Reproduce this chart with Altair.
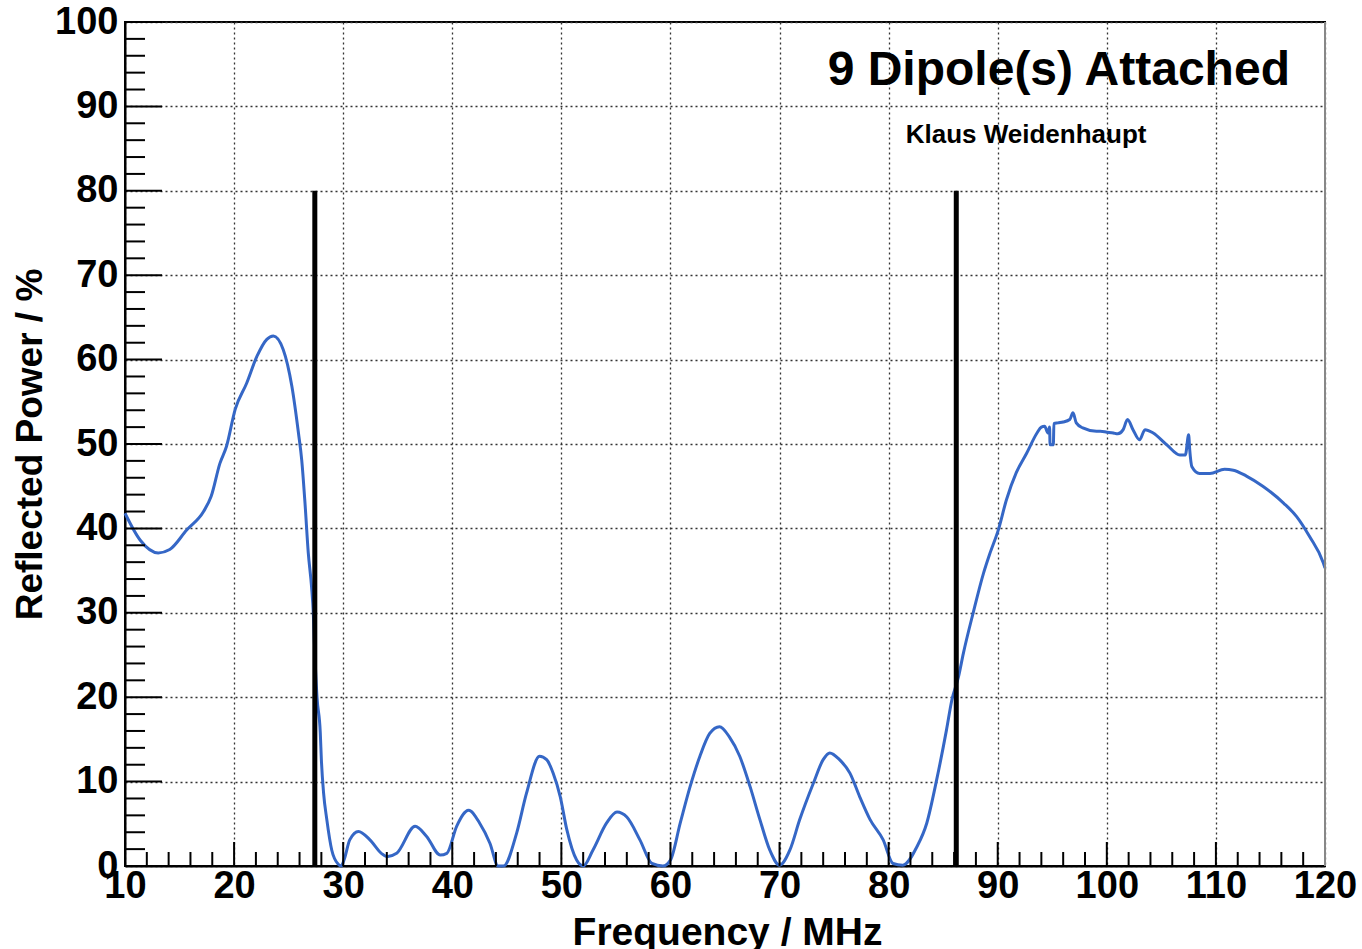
import altair as alt
import pandas as pd

# Reflected power sweep (MHz, %)
freq = [
    10.0, 11.4, 13.05, 14.1, 15.65, 17.2, 17.9, 18.7, 19.3, 20.1, 21.15, 22.1,
    23.0, 23.6, 24.5, 25.3, 25.9, 26.2, 26.5, 26.8, 27.1, 27.26, 27.35, 27.6,
    27.9, 28.0, 28.2, 28.5, 28.95, 29.55, 29.8, 30.1, 30.6, 31.4, 32.45, 33.5,
    34.0, 34.9, 36.6, 37.65, 38.9, 39.5, 40.4, 41.5, 42.5, 43.45, 44.2, 44.7,
    45.9, 46.8, 48.0, 48.65, 49.25, 49.9, 50.5, 51.4, 52.0, 52.9, 54.15, 55.1,
    56.0, 57.2, 58.3, 59.3, 60.0, 60.9, 61.8, 62.7, 63.6, 64.5, 65.4, 66.35,
    67.3, 68.2, 69.1, 70.0, 70.95, 71.85, 73.1, 74.0, 74.6, 75.5, 76.45, 77.35,
    78.3, 79.5, 80.4, 81.3, 82.6, 83.5, 84.4, 85.3, 85.8, 86.4, 86.85, 87.75,
    88.7, 89.3, 90.05, 90.8, 91.7, 92.65, 93.6, 94.0, 94.3, 94.6, 94.75, 94.8,
    95.1, 95.15, 95.5, 96.0, 96.6, 96.9, 97.2, 97.8, 99.05, 99.4, 100.0, 100.6,
    101.0, 101.5, 101.9, 102.4, 103.0, 103.5, 104.25, 105.5, 106.7, 107.2,
    107.5, 107.6, 107.8, 108.5, 109.45, 110.8, 111.6, 112.8, 114.3, 116.2,
    117.4, 118.6, 119.85, 120.0,
]
refl = [
    41.8, 38.6, 37.1, 37.5, 39.8, 42.0, 43.8, 47.7, 49.7, 54.1, 57.2, 60.4,
    62.4, 62.8, 61.2, 56.8, 51.3, 48.1, 43.0, 37.1, 33.1, 30.0, 26.8, 20.0,
    15.8, 12.6, 8.7, 5.5, 1.9, 0.2, 0.0, 0.8, 3.1, 4.1, 3.1, 1.5,
    1.1, 1.5, 4.7, 3.5, 1.3, 1.5, 4.7, 6.6, 5.1, 2.7, 0.0, 0.0,
    3.9, 8.6, 13.0, 12.6, 11.0, 8.2, 4.3, 0.7, 0.0, 1.9, 5.1, 6.4,
    5.8, 3.1, 0.3, 0.0, 0.7, 5.1, 9.4, 13.0, 15.7, 16.5, 15.3, 13.0,
    9.4, 5.5, 1.9, 0.1, 1.9, 5.5, 9.8, 12.6, 13.4, 12.6, 11.0, 8.2,
    5.5, 3.1, 0.3, 0.1, 2.3, 5.1, 10.2, 16.1, 19.7, 22.4, 25.2, 30.0,
    34.7, 37.1, 39.8, 43.4, 46.6, 48.9, 51.3, 52.0, 52.1, 51.3, 52.0, 49.9,
    49.9, 52.4, 52.5, 52.6, 52.9, 53.7, 52.5, 51.9, 51.5, 51.5, 51.4, 51.3,
    51.2, 51.7, 52.9, 51.7, 50.5, 51.7, 51.3, 49.9, 48.7, 48.7,
    51.1, 49.3, 47.3, 46.5, 46.5, 47.0, 46.9, 46.2, 45.0, 43.0,
    41.4, 39.0, 35.9, 35.3,
]

# Frequency band markers
marker_freq = [27.4, 86.2]
marker_top = [80, 80]

# Tick positions
major_x = list(range(10, 121, 10))
minor_x = [v for v in range(12, 120, 2) if v % 10]
major_y = list(range(0, 101, 10))
minor_y = [v for v in range(2, 100, 2) if v % 10]

FONT = "Liberation Sans"
W, H = 1200, 844

xscale = alt.Scale(domain=[10, 120], nice=False, zero=False)
yscale = alt.Scale(domain=[0, 100], nice=False, zero=True)

X = alt.X(
    "f:Q", scale=xscale,
    axis=alt.Axis(
        values=major_x, grid=True, gridDash=[2, 3], gridColor="#333",
        gridWidth=1.3, ticks=False, domainColor="black", domainWidth=2,
        labelFont=FONT, labelFontSize=38, labelFontWeight="bold",
        labelColor="black", labelPadding=1, labelFlush=False,
        title="Frequency / MHz", titleFont=FONT, titleFontSize=39,
        titleFontWeight="bold", titleColor="black", titleX=602, titleY=78,
        titleAlign="center", titleBaseline="alphabetic",
    ),
)
Y = alt.Y(
    "v:Q", scale=yscale,
    axis=alt.Axis(
        values=major_y, grid=True, gridDash=[2, 3], gridColor="#333",
        gridWidth=1.3, ticks=False, domainColor="black", domainWidth=2,
        labelFont=FONT, labelFontSize=38, labelFontWeight="bold",
        labelColor="black", labelPadding=7, labelFlush=False,
        title="Reflected Power / %", titleFont=FONT, titleFontSize=37,
        titleFontWeight="bold", titleColor="black", titleX=-95, titleY=422,
        titleAngle=270, titleAlign="center", titleBaseline="middle",
    ),
)

curve_df = pd.DataFrame({"f": freq, "v": refl})
marker_df = pd.DataFrame({"f": marker_freq, "v": [0, 0], "v2": marker_top})

curve = alt.Chart(curve_df).mark_line(
    color="#3567c6", strokeWidth=3, interpolate="monotone"
).encode(x=X, y=Y)

markers = alt.Chart(marker_df).mark_rule(color="black", strokeWidth=5).encode(
    x=X, y=Y, y2="v2:Q"
)

ymaj = alt.Chart(pd.DataFrame({"v": major_y})).mark_rule(
    color="black", strokeWidth=2
).encode(y=Y, x=alt.value(0), x2=alt.value(37))
ymin = alt.Chart(pd.DataFrame({"v": minor_y})).mark_rule(
    color="black", strokeWidth=2
).encode(y=Y, x=alt.value(0), x2=alt.value(20))
xmaj = alt.Chart(pd.DataFrame({"f": major_x})).mark_rule(
    color="black", strokeWidth=2
).encode(x=X, y=alt.value(H), y2=alt.value(H - 24))
xmin = alt.Chart(pd.DataFrame({"f": minor_x})).mark_rule(
    color="black", strokeWidth=2
).encode(x=X, y=alt.value(H), y2=alt.value(H - 14))

right_edge = alt.Chart(pd.DataFrame({"f": [120]})).mark_rule(
    color="#888", strokeWidth=2
).encode(x=X, y=alt.value(0), y2=alt.value(H))

title_df = pd.DataFrame({"f": [95.6], "v": [92.5], "t": ["9 Dipole(s) Attached"]})
author_df = pd.DataFrame({"f": [92.6], "v": [85.7], "t": ["Klaus Weidenhaupt"]})

title_txt = alt.Chart(title_df).mark_text(
    font=FONT, fontSize=48, fontWeight="bold", color="black",
    align="center", baseline="alphabetic",
).encode(x=X, y=Y, text="t:N")
author_txt = alt.Chart(author_df).mark_text(
    font=FONT, fontSize=26, fontWeight="bold", color="black",
    align="center", baseline="alphabetic",
).encode(x=X, y=Y, text="t:N")

chart = alt.layer(
    curve, markers, ymaj, ymin, xmaj, xmin, right_edge, title_txt, author_txt
).properties(
    width=W, height=H,
    padding={"left": 125, "top": 22, "right": 37, "bottom": 83},
    autosize=alt.AutoSizeParams(type="none"),
    background="white",
).configure_view(stroke="black", strokeWidth=2)

chart.save("out.html", embed_options={"renderer": "svg", "actions": False})
